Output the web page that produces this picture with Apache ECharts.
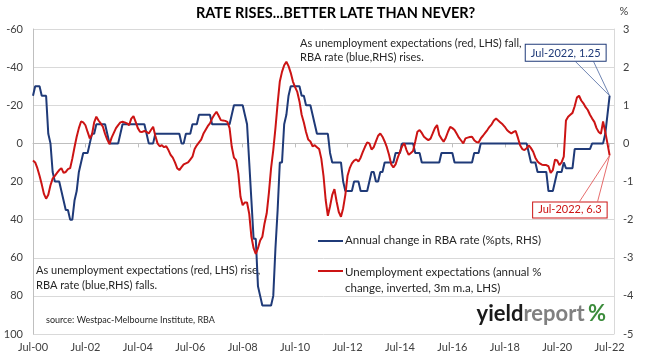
<!DOCTYPE html>
<html><head><meta charset="utf-8">
<script src="https://cdn.jsdelivr.net/npm/echarts@6/dist/echarts.min.js"></script>
<style>html,body{margin:0;padding:0;background:#fff}#c{width:652px;height:357px}</style>
</head><body><div id="c"></div>
<script>
// x-axis tick labels, every 24 months starting Jul-2000
const tickLabels = ['Jul-00','Jul-02','Jul-04','Jul-06','Jul-08','Jul-10','Jul-12','Jul-14','Jul-16','Jul-18','Jul-20','Jul-22'];
const lastLabel = 'Jul-2022';

// Annual change in RBA cash rate (%pts, RHS), monthly Jul-2000 .. Jul-2022
const rbaChange = [
  1.25, 1.5, 1.5, 1.5, 1.25, 1.25,
  1.25, 0.25, 0, -0.75, -1, -1, -1, -1.25, -1.5, -1.75, -1.75, -2,
  -2, -1.5, -1.25, -0.75, -0.5, -0.25, -0.25, -0.25, 0, 0.25, 0.25, 0.5,
  0.5, 0.5, 0.5, 0.5, 0.25, 0, 0, 0, 0, 0, 0.25, 0.5,
  0.5, 0.5, 0.5, 0.5, 0.5, 0.5, 0.5, 0.5, 0.5, 0.5, 0.25, 0,
  0, 0, 0.25, 0.25, 0.25, 0.25, 0.25, 0.25, 0.25, 0.25, 0.25, 0.25,
  0.25, 0.25, 0, 0, 0.25, 0.25, 0.25, 0.5, 0.5, 0.5, 0.75, 0.75,
  0.75, 0.75, 0.75, 0.75, 0.5, 0.5, 0.5, 0.5, 0.5, 0.5, 0.5, 0.5,
  0.5, 0.75, 1, 1, 1, 1, 1, 0.75, 0.5, -0.5, -1.5, -2.5,
  -2.5, -3.75, -4, -4.25, -4.25, -4.25, -4.25, -4.25, -4, -2.75, -1.75, -0.5,
  -0.5, 0.5, 0.75, 1.25, 1.5, 1.5, 1.5, 1.5, 1.5, 1.25, 1.25, 1,
  1, 1, 0.75, 0.5, 0.25, 0.25, 0.25, 0.25, 0.25, 0.25, -0.25, -0.5,
  -0.5, -0.5, -0.5, -0.5, -1, -1.25, -1.25, -1.25, -1.25, -1, -1, -1,
  -1.25, -1.25, -1.25, -1.25, -1, -0.75, -0.75, -1, -1, -0.75, -0.75, -0.5,
  -0.5, -0.5, -0.5, -0.5, -0.25, -0.25, -0.25, 0, 0, 0, 0, 0,
  0, -0.25, -0.25, -0.25, -0.5, -0.5, -0.5, -0.5, -0.5, -0.5, -0.5, -0.5,
  -0.5, -0.25, -0.25, -0.25, -0.25, -0.25, -0.25, -0.5, -0.5, -0.5, -0.5, -0.5,
  -0.5, -0.5, -0.5, -0.5, -0.25, -0.25, -0.25, 0, 0, 0, 0, 0,
  0, 0, 0, 0, 0, 0, 0, 0, 0, 0, 0, 0,
  0, 0, 0, 0, 0, -0.25, -0.5, -0.5, -0.5, -0.75, -0.75, -0.75,
  -0.75, -0.75, -1.25, -1.25, -1.25, -1, -0.75, -0.75, -0.75, -0.5, -0.65, -0.65,
  -0.65, -0.65, -0.15, -0.15, -0.15, -0.15, -0.15, -0.15, -0.15, -0.15, 0, 0,
  0, 0, 0, 0, 0.25, 0.75, 1.25
];

// Unemployment expectations (annual % change, inverted, 3m m.a., LHS), monthly Jul-2000 .. Jul-2022
const unempExp = [
  9, 10, 13, 17, 21.5, 26.5,
  29, 27, 22, 18.5, 17, 15.5, 14, 13, 15.5, 15, 13.5, 13,
  8, 2, -3.5, -8, -11.5, -11, -9.5, -6, -2.6, -4.5, -11, -14,
  -12, -10.5, -8.7, -5, -2, 0.4, -3, -5.5, -8, -9.6, -11, -11.3,
  -11, -10.5, -9.5, -13, -14.3, -11.3, -8, -6.1, -6, -6.5, -6, -5.2,
  -7, -8.7, -4, 0, 1.5, 1, 2, 1.5, 3.5, 6, 7.5, 10,
  13, 14, 12.5, 11, 10.5, 10, 8.5, 7, 3, 1, -0.5, -2,
  -5, -7, -9, -10.5, -13, -15, -16.6, -14.5, -12.2, -12, -11.8, -11.3,
  -8, 1.8, 7.5, 8.8, 15.7, 28, 32.4, 31, 31, 37, 49, 55,
  58, 55, 51, 49, 42, 36.7, 26, 13, 3.5, -8, -21, -32.5,
  -37.5, -41, -42.8, -40.5, -37, -32.4, -29.5, -27, -22, -15, -11, -6,
  -2, -1, 1.5, 1, 2, 3, 8, 17, 29.7, 38, 33, 27,
  24, 30.5, 36, 38.5, 34, 27, 17, 13, 10.5, 9, 8.4, 9.5,
  7.5, 4.5, 1.8, -0.5, 0, 3.2, 2, -1, -4, -5.2, -3.5, -1,
  2, 6, 11, 12.6, 11, 7.5, 4.4, 1.5, 0, 3.5, 6, 5,
  4, -1, -6.1, -7, -5.5, -3.5, -2.5, -1.7, -2.5, -5.2, -8, -9.6,
  -4.4, -2.5, -0.9, -3, -6.1, -8.7, -8, -7, -5, -3, -1.5, 0,
  -2.6, -3, -3.3, -3.5, -1.7, -0.7, -0.5, -2.6, -4, -5.5, -7, -8.7,
  -10, -12, -13, -12, -11, -10, -8.7, -7, -6, -5.2, -6, -6.5,
  -3, 1, 3, 3.5, 2.5, 1, 2.5, 4.4, 7.5, 9.5, 10.5, 11.2,
  11.4, 11.4, 12, 15.5, 14, 8.5, 9, 11.4, 10, 7, -12, -14,
  -15, -16, -19.5, -24, -25, -22.5, -21, -19, -17.5, -15, -13, -11.3,
  -8, -6, -5, -11.5, -6, 0, 6.3
];

const seriesNames = ['Annual change in RBA rate (%pts, RHS)', 'Unemployment expectations (annual %\nchange, inverted, 3m m.a, LHS)'];
const titleText = 'RATE RISES...BETTER LATE THAN NEVER?';
const noteTop = 'As unemployment expectations (red, LHS) fall,\nRBA rate (blue,RHS) rises.';
const noteBottom = 'As unemployment expectations (red, LHS) rise,\nRBA rate (blue,RHS) falls.';
const sourceText = 'source: Westpac-Melbourne Institute, RBA';

const BLUE = '#1F3A78', RED = '#CC1414';
const FONT = 'Lato';
const xTickValues = tickLabels.map((_, k) => k * 24);

const chart = echarts.init(document.getElementById('c'), null, {renderer: 'canvas'});
const base = {
  animation: false,
  backgroundColor: '#fff',
  textStyle: {fontFamily: FONT},
  title: {text: titleText, left: 196, top: 6, padding: 0,
    textStyle: {fontFamily: FONT, fontWeight: 'bold', fontSize: 14.5, color: '#000'}},
  grid: {left: 33, right: 38, top: 29, bottom: 23, show: false},
  xAxis: {
    type: 'value', min: 0, max: 266, interval: 24,
    axisLine: {show: true, lineStyle: {color: '#BFBFBF'}},
    axisTick: {show: true, length: 4, lineStyle: {color: '#BFBFBF'}, customValues: xTickValues},
    axisLabel: {color: '#404040', fontSize: 11, margin: 8, customValues: xTickValues,
      formatter: v => tickLabels[Math.round(v / 24)] || ''},
    splitLine: {show: false}
  },
  yAxis: [
    {type: 'value', inverse: true, min: -60, max: 100, interval: 20, position: 'left',
      axisLine: {show: true, lineStyle: {color: '#BFBFBF'}}, axisTick: {show: false},
      axisLabel: {color: '#404040', fontSize: 11, margin: 10},
      splitLine: {show: true, lineStyle: {color: '#D9D9D9', width: 1}}},
    {type: 'value', min: -5, max: 3, interval: 1, position: 'right',
      name: '%', nameLocation: 'end', nameGap: 12, nameTextStyle: {color: '#404040', fontSize: 11, padding: [0, 0, 0, 20]},
      axisLine: {show: true, lineStyle: {color: '#D9D9D9'}}, axisTick: {show: false},
      axisLabel: {color: '#404040', fontSize: 11, margin: 9},
      splitLine: {show: false}}
  ],
  series: [
    {name: seriesNames[0], type: 'line', yAxisIndex: 1, showSymbol: false, z: 2,
      lineStyle: {color: BLUE, width: 2}, itemStyle: {color: BLUE},
      data: rbaChange.map((v, i) => [i, v])},
    {name: seriesNames[1], type: 'line', yAxisIndex: 0, showSymbol: false, z: 3,
      lineStyle: {color: RED, width: 2}, itemStyle: {color: RED},
      data: unempExp.map((v, i) => [i, v])}
  ]
};
chart.setOption(base);

const li = rbaChange.length - 1;
const pB = chart.convertToPixel({xAxisIndex: 0, yAxisIndex: 1}, [li, rbaChange[li]]);
const pR = chart.convertToPixel({xAxisIndex: 0, yAxisIndex: 0}, [li, unempExp[li]]);
const txt = {fontFamily: FONT, fontSize: 11, fill: '#262626'};
const graphics = [
  {type: 'text', left: 300, top: 36, style: Object.assign({}, txt, {text: noteTop, lineHeight: 14})},
  {type: 'text', left: 36, top: 263, style: Object.assign({}, txt, {text: noteBottom, lineHeight: 15})},
  {type: 'text', left: 46, top: 316, style: Object.assign({}, txt, {text: sourceText, fontSize: 9})},
  // legend
  {type: 'line', shape: {x1: 318, y1: 241, x2: 343, y2: 241}, style: {stroke: BLUE, lineWidth: 2}},
  {type: 'text', left: 345, top: 234, style: Object.assign({}, txt, {text: seriesNames[0], fontSize: 11.5})},
  {type: 'line', shape: {x1: 318, y1: 271, x2: 343, y2: 271}, style: {stroke: RED, lineWidth: 2}},
  {type: 'text', left: 345, top: 264, style: Object.assign({}, txt, {text: seriesNames[1], fontSize: 11.5, lineHeight: 16})},
  // logo
  {type: 'text', right: 46, top: 303, style: {
    text: '{a|yield}{b|report} {c|%}',
    rich: {
      a: {fontFamily: FONT, fontWeight: 'bold', fontSize: 22, fill: '#1a1a1a'},
      b: {fontFamily: FONT, fontWeight: 'bold', fontSize: 22, fill: '#808080'},
      c: {fontFamily: FONT, fontWeight: 'bold', fontSize: 22, fill: '#3C8C3C'}
    }}},
  // callout for blue last point
  {type: 'polyline', shape: {points: [[pB[0] - 34, pB[1] - 34], [pB[0], pB[1]], [pB[0] - 16, pB[1] - 34]]},
    style: {stroke: '#4A66A0', lineWidth: 0.8, fill: null}, z: 10},
  {type: 'text', x: pB[0] - 4, y: pB[1] - 35, z: 11, style: {
    text: lastLabel + ', ' + rbaChange[li], fontFamily: FONT, fontSize: 11, fill: BLUE,
    align: 'right', verticalAlign: 'bottom', backgroundColor: '#fff', borderColor: BLUE, borderWidth: 1,
    padding: [3, 5, 2, 5]}},
  // callout for red last point
  {type: 'polyline', shape: {points: [[pR[0] - 30, pR[1] + 46], [pR[0], pR[1]], [pR[0] - 12, pR[1] + 46]]},
    style: {stroke: '#E04848', lineWidth: 0.8, fill: null}, z: 10},
  {type: 'text', x: pR[0] - 3, y: pR[1] + 47, z: 11, style: {
    text: lastLabel + ', ' + unempExp[li], fontFamily: FONT, fontSize: 11, fill: RED,
    align: 'right', verticalAlign: 'top', backgroundColor: '#fff', borderColor: RED, borderWidth: 1,
    padding: [2, 5, 2, 5]}}
];
chart.setOption({graphic: graphics});
</script></body></html>
